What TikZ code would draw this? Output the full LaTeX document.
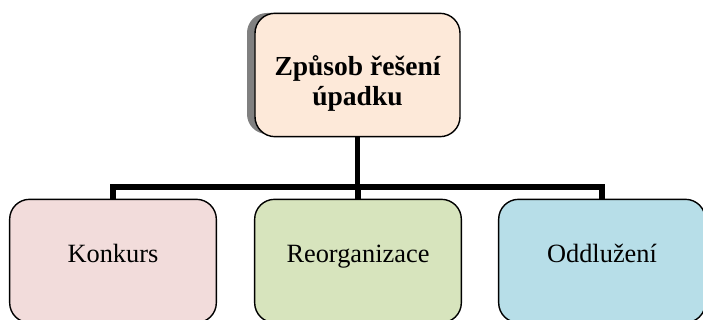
\documentclass[tikz,border=0pt]{standalone}
\usepackage{fontspec}
\setmainfont{Liberation Serif}
\usetikzlibrary{calc}

\definecolor{peach}{HTML}{FDE9D9}
\definecolor{rose}{HTML}{F2DCDB}
\definecolor{olive}{HTML}{D7E4BD}
\definecolor{aqua}{HTML}{B7DEE8}

\begin{document}
\begin{tikzpicture}[x=0.03cm, y=0.03cm,
  box/.style={draw, line width=1.2pt, rounded corners=17pt, minimum width=6.2cm,
    minimum height=3.7cm, align=center, font=\fontsize{22.5}{25.5}\selectfont},
  link/.style={line width=4.3pt, line join=miter}]
\useasboundingbox (0, 0) rectangle (703, 320);

% shadow behind the top box
\fill [rounded corners=17pt, gray] (247, 186) rectangle (450, 307);

\node [box, fill=peach, minimum width=6.15cm, font=\fontsize{23.5}{25.5}\selectfont\bfseries] (top) at (357.5, 245)
  {\rule{0pt}{1.1cm}Způsob řešení\\úpadku};

\node [box, fill=rose, text height=0.5cm, text depth=0.38cm] (konkurs) at (113, 59) {Konkurs};
\node [box, fill=olive, text height=0.5cm, text depth=0.38cm] (reorg) at (358, 59) {Reorganizace};
\node [box, fill=aqua, text height=0.5cm, text depth=0.38cm] (oddluz) at (602, 59) {Oddlužení};

\coordinate (bar) at (357.5, 133);

\draw [link] (top.south) -- (top.south |- bar);
\draw [link] (konkurs.north) |- (bar) -| (oddluz.north);
\draw [link] (bar -| reorg.north) -- (reorg.north);
\end{tikzpicture}
\end{document}
